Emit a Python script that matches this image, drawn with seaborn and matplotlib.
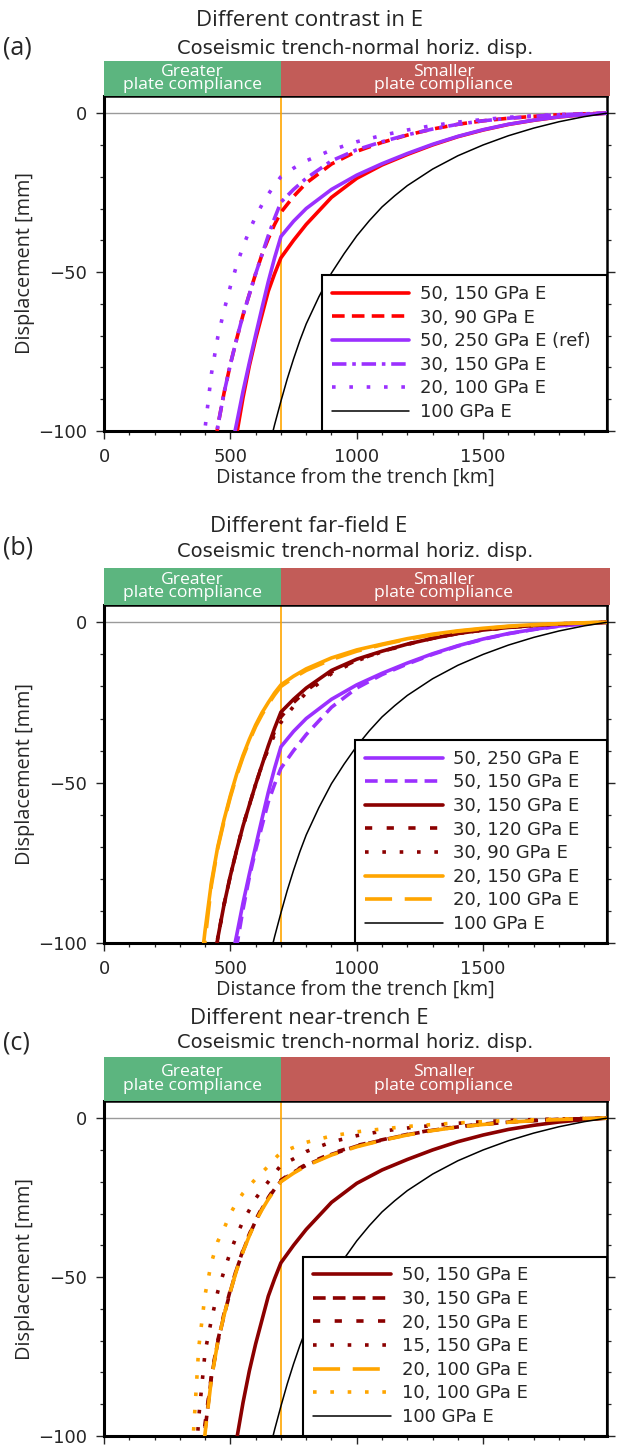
import numpy as np
import pandas as pd
import matplotlib
matplotlib.use("Agg")
import matplotlib.pyplot as plt
import matplotlib.transforms as mtransforms
from matplotlib.patches import Rectangle
from matplotlib.ticker import MultipleLocator, FixedLocator, NullFormatter
import seaborn as sns

nan = np.nan

# ---------------- data (distance from trench in km, displacement in mm) ----------------
dist_km = [325, 350, 375, 400, 425, 450, 475, 500, 525, 550, 575, 600, 625, 650, 675,
           700, 750, 800, 900, 1000, 1100, 1200, 1300, 1400, 1500, 1600, 1700, 1800, 1900, 1990]

# uniform 100 GPa model (read on its own, finer grid)
dist_km_100 = [660, 675, 700, 725, 750, 775, 800, 850, 900, 950, 1000, 1050, 1100, 1150, 1200,
               1300, 1400, 1500, 1600, 1700, 1800, 1900, 1990]
e100 = [-102.8, -98.0, -90.6, -83.6, -77.3, -71.5, -66.3, -57.8, -50.3, -44.2, -38.6, -33.8, -29.5,
        -26.0, -22.8, -17.6, -13.4, -10.0, -7.1, -4.7, -2.7, -1.1, 0.0]

e50_150 = [nan, nan, nan, nan, nan, nan, nan, -114.0, -101.0, -89.5, -79.5, -71.0, -63.5, -56.0, -50.5,
           -45.5, -40.0, -35.0, -26.5, -20.5, -16.3, -13.0, -10.0, -7.4, -5.3, -3.55, -2.25, -1.2, -0.45, 0.0]
e50_250 = [nan, nan, nan, nan, nan, nan, nan, -107.0, -97.5, -87.5, -78.5, -69.8, -61.3, -53.0, -45.5,
           -38.8, -34.0, -30.0, -24.0, -19.5, -15.9, -12.7, -9.8, -7.3, -5.2, -3.5, -2.2, -1.15, -0.45, 0.0]
e30_150 = [nan, nan, nan, nan, -115.0, -98.5, -88.0, -79.0, -71.0, -63.5, -57.0, -50.5, -44.5, -38.5, -33.0,
           -28.0, -24.0, -20.5, -15.0, -11.5, -9.0, -6.8, -5.0, -3.5, -2.4, -1.6, -1.0, -0.5, -0.2, 0.0]
e30_120 = [nan, nan, nan, nan, -115.0, -98.5, -88.0, -79.0, -71.0, -63.5, -57.0, -50.5, -44.5, -39.0, -34.0,
           -29.5, -25.0, -21.3, -15.5, -11.8, -9.1, -6.8, -5.0, -3.5, -2.4, -1.6, -1.0, -0.5, -0.2, 0.0]
e30_90 = [nan, nan, nan, nan, -115.0, -98.5, -88.0, -79.0, -71.0, -63.5, -57.0, -50.5, -44.5, -39.5, -35.0,
          -31.2, -26.2, -22.0, -16.0, -12.0, -9.2, -6.9, -5.0, -3.5, -2.4, -1.6, -1.0, -0.5, -0.2, 0.0]
e20_100 = [nan, nan, -120.0, -99.0, -82.0, -70.5, -62.0, -54.5, -47.8, -42.0, -37.0, -32.5, -28.8, -25.5, -22.6,
           -20.0, -17.3, -15.0, -11.6, -9.0, -7.0, -5.3, -3.9, -2.8, -2.0, -1.3, -0.8, -0.45, -0.15, 0.0]
e20_150 = [nan, nan, -113.0, -96.0, -81.0, -70.0, -61.5, -54.0, -47.3, -41.5, -36.5, -32.0, -28.2, -25.0, -22.0,
           -19.5, -16.8, -14.5, -11.1, -8.6, -6.8, -5.1, -3.7, -2.65, -1.85, -1.2, -0.72, -0.4, -0.15, 0.0]
e30_150_c = [nan, nan, -118.0, -98.0, -81.5, -70.5, -62.0, -54.5, -47.5, -41.8, -36.8, -32.3, -28.5, -25.2, -22.3,
             -19.8, -17.0, -14.8, -11.4, -8.8, -6.9, -5.2, -3.8, -2.75, -1.95, -1.25, -0.78, -0.43, -0.15, 0.0]
e15_150 = [nan, -125.0, -94.0, -73.5, -63.4, -54.6, -48.1, -42.1, -36.9, -32.4, -28.9, -25.3, -22.5, -20.0, -17.4,
           -14.8, -12.8, -10.5, -7.5, -5.5, -4.1, -3.1, -2.3, -1.6, -1.1, -0.7, -0.45, -0.25, -0.1, 0.0]
e10_100 = [nan, -104.0, -72.0, -55.5, -45.4, -38.8, -34.7, -30.0, -26.5, -23.6, -21.3, -19.1, -17.1, -15.1, -12.8,
           -10.8, -9.2, -7.6, -5.6, -4.3, -3.4, -2.6, -2.0, -1.5, -1.1, -0.75, -0.5, -0.28, -0.1, 0.0]

panel_titles = ["Different contrast in E", "Different far-field E", "Different near-trench E"]
panel_letters = ["(a)", "(b)", "(c)"]
subtitle = "Coseismic trench-normal horiz. disp."
zone_labels = ["Greater\nplate compliance", "Smaller\nplate compliance"]
x_ticks = [0, 500, 1000, 1500]
y_ticks = [-100, -50, 0]
boundary_km = 700
x_max = 1990
y_range = (-100, 5.4)

# ---------------- styles ----------------
RED = "#ff0000"
PURPLE = "#9b30ff"
DARKRED = "#8b0000"
ORANGE = "#ffa500"
BLACK = "#000000"
GREEN_BAND = "#5cb57f"
RED_BAND = "#c25c58"
LW = 2.6
SOLID = "-"
DASHED = (0, (3.5, 2.0))
DASHDOT = (0, (4.0, 1.6, 1.0, 1.6))
DOTTED = (0, (1.0, 3.8))
SHORTDASH = (0, (2.0, 4.0))
LONGDASH = (0, (7.5, 3.5))

panels = [
    [(dist_km, e50_150, "50, 150 GPa E", RED, SOLID, LW),
     (dist_km, e30_90, "30, 90 GPa E", RED, DASHED, LW),
     (dist_km, e50_250, "50, 250 GPa E (ref)", PURPLE, SOLID, LW),
     (dist_km, e30_150, "30, 150 GPa E", PURPLE, DASHDOT, LW),
     (dist_km, e20_100, "20, 100 GPa E", PURPLE, DOTTED, LW),
     (dist_km_100, e100, "100 GPa E", BLACK, SOLID, 1.1)],
    [(dist_km, e50_250, "50, 250 GPa E", PURPLE, SOLID, LW),
     (dist_km, e50_150, "50, 150 GPa E", PURPLE, DASHED, LW),
     (dist_km, e30_150, "30, 150 GPa E", DARKRED, SOLID, LW),
     (dist_km, e30_120, "30, 120 GPa E", DARKRED, SHORTDASH, LW),
     (dist_km, e30_90, "30, 90 GPa E", DARKRED, DOTTED, LW),
     (dist_km, e20_150, "20, 150 GPa E", ORANGE, SOLID, LW),
     (dist_km, e20_100, "20, 100 GPa E", ORANGE, LONGDASH, LW),
     (dist_km_100, e100, "100 GPa E", BLACK, SOLID, 1.1)],
    [(dist_km, e50_150, "50, 150 GPa E", DARKRED, SOLID, LW),
     (dist_km, e30_150_c, "30, 150 GPa E", DARKRED, DASHED, LW),
     (dist_km, e20_150, "20, 150 GPa E", DARKRED, SHORTDASH, LW),
     (dist_km, e15_150, "15, 150 GPa E", DARKRED, DOTTED, LW),
     (dist_km, e20_100, "20, 100 GPa E", ORANGE, LONGDASH, LW),
     (dist_km, e10_100, "10, 100 GPa E", ORANGE, DOTTED, LW),
     (dist_km_100, e100, "100 GPa E", BLACK, SOLID, 1.1)],
]

# pixel layout (figure is 618 x 1447 px)
W, H = 618, 1447
AX_LEFT, AX_RIGHT = 104, 607
AX_TOPS = [96, 605, 1101]
AX_BOTTOMS = [431, 943, 1436]
BAND_H = [35, 37, 44]
TITLE_Y = [20, 527, 1019]
SUBTITLE_Y = [49, 551, 1042]
LETTER_Y = [48, 548, 1043]
LEG_X0 = [0.433, 0.499, 0.396]

sns.set_style("ticks")
plt.rcParams['font.family'] = ['DejaVu Sans']
plt.rcParams['axes.unicode_minus'] = True
TITLE_FONT = ['Open Sans', 'DejaVu Sans']

fig = plt.figure(figsize=(W / 100, H / 100), dpi=100)

for i in range(3):
    top, bot = AX_TOPS[i], AX_BOTTOMS[i]
    ax = fig.add_axes([AX_LEFT / W, 1 - bot / H, (AX_RIGHT - AX_LEFT) / W, (bot - top) / H])
    ax.set_xlim(0, x_max)
    ax.set_ylim(*y_range)

    ax.axhline(0, color="#9a9a9a", lw=1.0, zorder=1)
    ax.axvline(boundary_km, color=ORANGE, lw=1.2, zorder=1.5)

    for xs, vals, label, color, ls, lw in panels[i]:
        df = pd.DataFrame({"dist": xs, "disp": np.array(vals, dtype=float)}).dropna()
        sns.lineplot(data=df, x="dist", y="disp", ax=ax, color=color, lw=lw,
                     linestyle=ls, label=label, estimator=None, sort=False,
                     legend=False, zorder=3)

    handles, labels = ax.get_legend_handles_labels()
    leg = ax.legend(handles, labels, loc="lower left",
                    bbox_to_anchor=(LEG_X0[i], 0.0, 1 - LEG_X0[i], 0.5), mode="expand",
                    borderaxespad=0, frameon=True, fancybox=False, framealpha=1,
                    edgecolor="black", fontsize=13, handlelength=4.3,
                    handletextpad=0.6, labelspacing=0.31, borderpad=0.55)
    leg.get_frame().set_linewidth(1.5)
    leg.set_zorder(6)

    # header band
    trans = mtransforms.blended_transform_factory(ax.transData, ax.transAxes)
    band_h = BAND_H[i] / (bot - top)
    ax.add_patch(Rectangle((0, 1.0), boundary_km, band_h, transform=trans,
                           facecolor=GREEN_BAND, lw=0, clip_on=False, zorder=4))
    ax.add_patch(Rectangle((boundary_km, 1.0), x_max + 10 - boundary_km, band_h, transform=trans,
                           facecolor=RED_BAND, lw=0, clip_on=False, zorder=4))
    ax.text(boundary_km / 2, 1.0 + band_h / 2, zone_labels[0], transform=trans,
            ha="center", va="center", color="white", fontsize=12.6,
            family=TITLE_FONT, linespacing=0.75, zorder=5, clip_on=False)
    ax.text((boundary_km + x_max) / 2, 1.0 + band_h / 2, zone_labels[1], transform=trans,
            ha="center", va="center", color="white", fontsize=12.6,
            family=TITLE_FONT, linespacing=0.75, zorder=5, clip_on=False)

    # axes styling
    for name, sp in ax.spines.items():
        sp.set_linewidth(2.2 if name in ("left", "bottom") else 1.8)
        sp.set_color("black")
    ax.xaxis.set_major_locator(FixedLocator(x_ticks))
    ax.xaxis.set_minor_locator(MultipleLocator(100))
    ax.yaxis.set_major_locator(FixedLocator(y_ticks))
    ax.yaxis.set_minor_locator(MultipleLocator(10))
    ax.tick_params(which="major", direction="out", length=6, width=1.0, labelsize=13,
                   left=True, right=True, bottom=True, top=False, labelright=False, pad=6)
    ax.tick_params(which="minor", direction="out", length=3, width=0.9,
                   left=True, right=True, bottom=True, top=False)
    ax.set_ylabel("Displacement [mm]", family=TITLE_FONT, fontsize=14.3)
    ax.yaxis.set_label_coords(-69 / (AX_RIGHT - AX_LEFT), 0.5)
    if i < 2:
        ax.set_xlabel("Distance from the trench [km]", family=TITLE_FONT, fontsize=14.3)
        ax.xaxis.set_label_coords(0.5, -37 / (bot - top))
    else:
        # the bottom panel's tick labels and x label fall below the figure edge
        ax.xaxis.set_major_formatter(NullFormatter())
        ax.set_xlabel("")

    # titles
    fig.text(309 / W, 1 - TITLE_Y[i] / H, panel_titles[i], ha="center", va="center",
             family=TITLE_FONT, fontsize=16)
    fig.text((AX_LEFT + AX_RIGHT) / 2 / W, 1 - SUBTITLE_Y[i] / H, subtitle,
             ha="center", va="center", fontsize=14)
    fig.text(3 / W, 1 - LETTER_Y[i] / H, panel_letters[i], ha="left", va="center",
             family=TITLE_FONT, fontsize=18)

fig.savefig("out.png", dpi=100)
